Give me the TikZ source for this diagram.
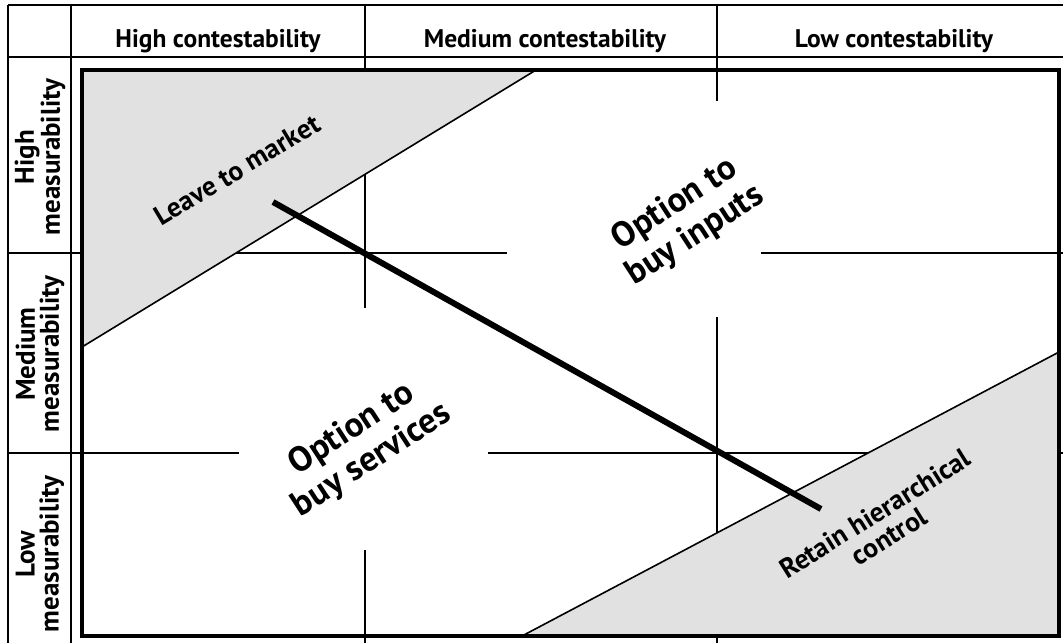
\documentclass[tikz,border=0pt]{standalone}
\usepackage{fontspec}
\setmainfont{PT Sans}
\definecolor{zonegray}{HTML}{E1E1E1}
\begin{document}
\begin{tikzpicture}[x=1pt,y=-1pt,
  tline/.style={line width=1.4pt},
  zone/.style={fill=zonegray,draw=black,line width=1.6pt,line join=miter},
  frame/.style={line width=3.8pt},
  diag/.style={line width=6pt},
  hdr/.style={font=\bfseries\fontsize{25.5}{26}\selectfont,inner sep=0pt},
  rowlab/.style={font=\bfseries\fontsize{27}{24}\selectfont,inner sep=0pt,align=center,rotate=90},
  big/.style={font=\bfseries\fontsize{35}{37}\selectfont,inner sep=0pt,align=center},
  mid/.style={font=\bfseries\fontsize{27.5}{27}\selectfont,inner sep=0pt,align=center}]
\useasboundingbox (0,0) rectangle (1063,643);
% table lines
\draw[tline] (8,5) -- (1063,5);
\draw[tline] (8,57) -- (1063,57);
\draw[tline] (8,5) -- (8,643);
\draw[tline] (71,5) -- (71,643);
% grid lines
\draw[tline] (365,5) -- (365,308);
\draw[tline] (365,550) -- (365,643);
\draw[tline] (717,5) -- (717,101);
\draw[tline] (717,317) -- (717,643);
\draw[tline] (8,253) -- (507,253);
\draw[tline] (761,253) -- (1063,253);
\draw[tline] (8,453) -- (239,453);
\draw[tline] (488,453) -- (1063,453);
% zones
\draw[zone] (82,70) -- (536,70) -- (82,347) -- cycle;
\draw[zone] (1059,352) -- (1059,636) -- (522,636) -- cycle;
% frame
\draw[frame] (82,70) rectangle (1059,636);
% diagonal
\coordinate (d1) at (273,202);
\coordinate (d2) at (821,509);
\draw[diag] (d1) -- (d2);
% headers
\node[hdr,anchor=base] (hc) at (218,47) {High contestability};
\node[hdr,anchor=base] (mc) at (545,47) {Medium contestability};
\node[hdr,anchor=base] (lc) at (894,47) {Low contestability};
% row labels
\node[rowlab] (hm) at (40,157) {High\\measurability};
\node[rowlab] (mm) at (40,354) {Medium\\measurability};
\node[rowlab] (lm) at (40,554) {Low\\measurability};
% zone labels
\node[mid,rotate=31] (ltm) at (237,170) {Leave to market};
\node[big,rotate=33] (obi) at (685,220) {Option to\\buy inputs};
\node[big,rotate=33] (obs) at (362,445) {Option to\\buy services};
\node[mid,rotate=32] (rhc) at (882,525) {Retain hierarchical\\control};
\end{tikzpicture}
\end{document}
